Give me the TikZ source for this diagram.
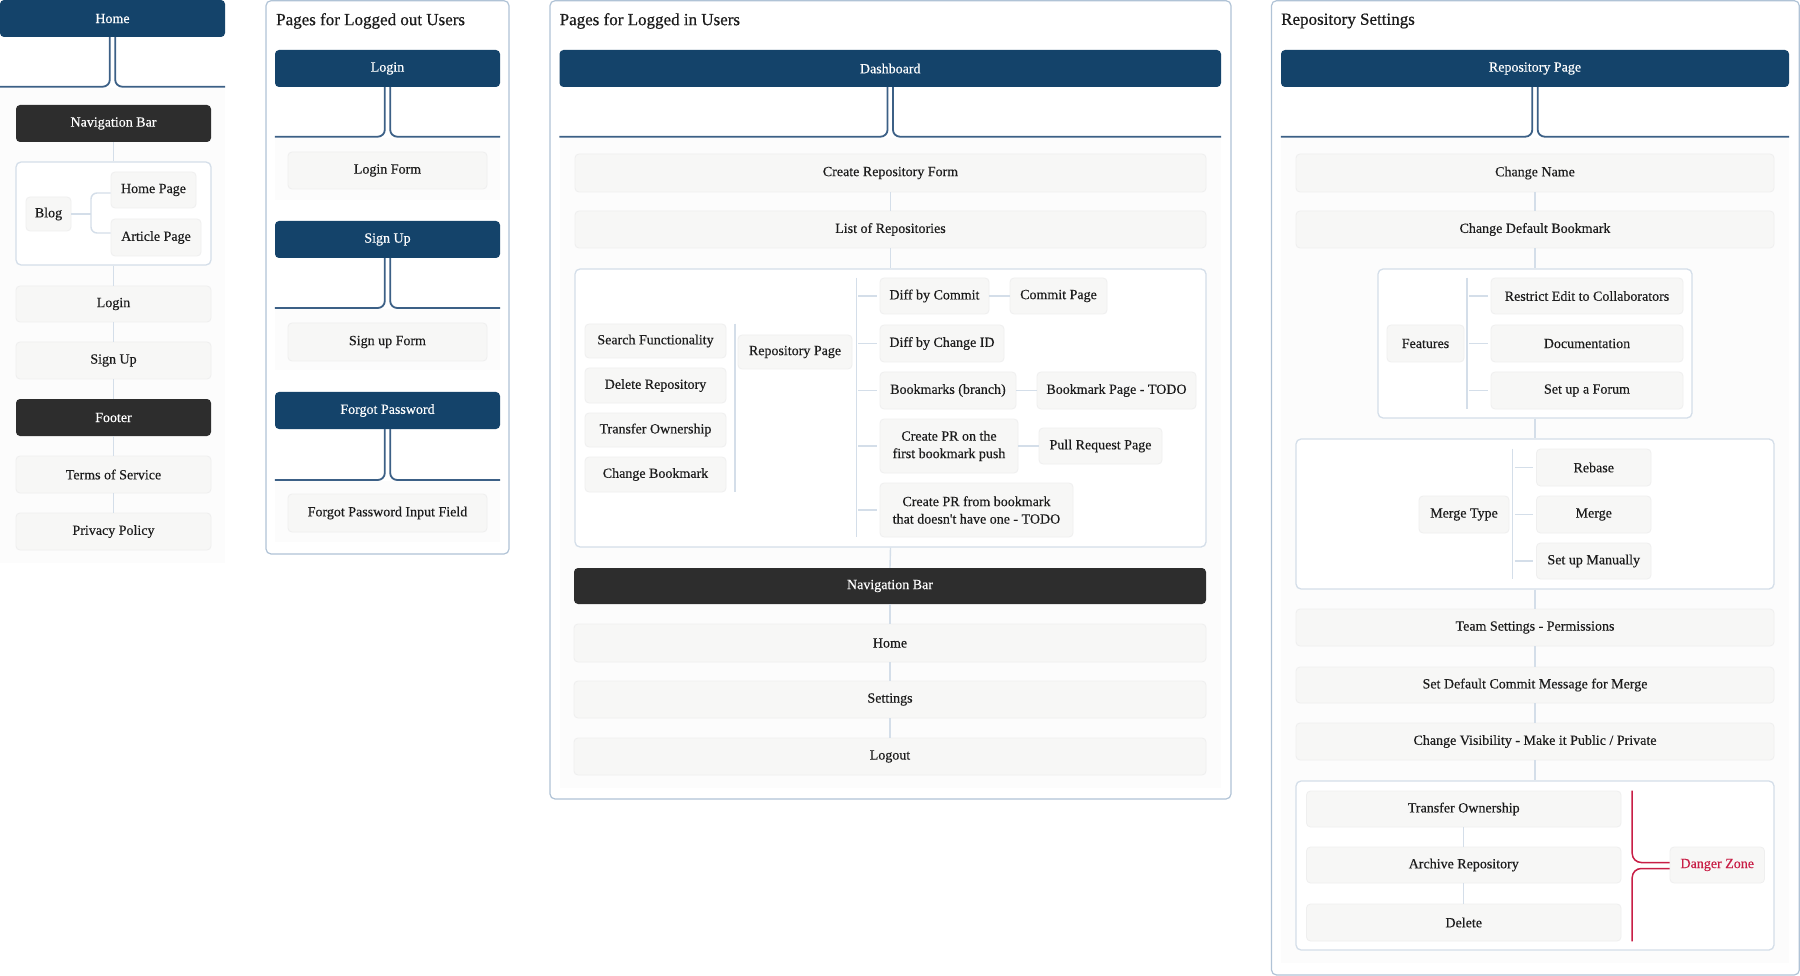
\documentclass[tikz,border=0pt]{standalone}
\usepackage{fontspec}
\setmainfont{Liberation Serif}
\newfontfamily\nodefont{Liberation Serif}[FakeBold=0.35]
\newfontfamily\titlefont{Liberation Serif}[FakeBold=0.6]
\definecolor{navy}{RGB}{20,67,106}
\definecolor{darkbox}{RGB}{45,45,45}
\definecolor{ltfill}{RGB}{247,247,246}
\definecolor{ltdraw}{RGB}{239,239,239}
\definecolor{grpdraw}{RGB}{212,222,233}
\definecolor{framedraw}{RGB}{176,195,214}
\definecolor{conncol}{RGB}{212,222,233}
\definecolor{bracecol}{RGB}{60,96,134}
\definecolor{dangercol}{RGB}{200,30,70}
\definecolor{bgfaint}{RGB}{252,252,252}
\definecolor{txt}{RGB}{28,28,28}
\tikzset{
 box/.style={inner sep=0pt, rounded corners=4pt, font=\nodefont\fontsize{14}{17.5}\selectfont, align=center},
 hdr/.style={box, fill=navy, text=white},
 dk/.style={box, fill=darkbox, text=white},
 lt/.style={box, fill=ltfill, draw=ltdraw, line width=0.8pt, text=txt},
 grp/.style={inner sep=0pt, rounded corners=5pt, draw=grpdraw, fill=white, line width=1.3pt},
 frm/.style={inner sep=0pt, rounded corners=5pt, draw=framedraw, fill=white, line width=1.2pt},
 bgr/.style={inner sep=0pt, fill=bgfaint},
 conn/.style={draw=conncol, line width=1.4pt},
 brc/.style={draw=bracecol, line width=1.8pt, rounded corners=7pt},
 dbrc/.style={draw=dangercol, line width=1.5pt, rounded corners=9pt},
 ttl/.style={anchor=west, inner sep=0pt, font=\titlefont\fontsize{17}{20}\selectfont, text=txt},
}
\newcommand\bx[7]{\node[#6, minimum width={#4-#2}, minimum height={#5-#3}] (#1) at ({(#2+#4)/2},{(#3+#5)/2}) {#7};}
\newcommand\hbr[2]{%
 \draw[brc] ([xshift=-2.7pt]#1.south) |- (#1.west |- 0,#2);
 \draw[brc] ([xshift=2.7pt]#1.south) |- (#1.east |- 0,#2);}
\begin{document}
\begin{tikzpicture}[x=1pt,y=-1pt]
\useasboundingbox (0,0) rectangle (1800,976);
% ---------------- column 1
\bx{bgL}{0}{88}{225}{563}{bgr}{}
\bx{home}{0}{0}{225}{37}{hdr}{Home}
\hbr{home}{86.7}
\bx{nav1}{16}{105}{211}{142}{dk}{Navigation Bar}
\bx{grpBlog}{16}{162}{211}{265}{grp}{}
\bx{blog}{26}{197}{71}{231}{lt}{Blog}
\bx{hp}{111}{172}{196}{208}{lt}{Home Page}
\bx{ap}{111}{219}{201}{256}{lt}{Article Page}
\bx{login1}{16}{286}{211}{322}{lt}{Login}
\bx{signup1}{16}{342}{211}{379}{lt}{Sign Up}
\bx{footer}{16}{399}{211}{436}{dk}{Footer}
\bx{tos}{16}{456}{211}{493}{lt}{Terms of Service}
\bx{pp}{16}{513}{211}{550}{lt}{Privacy Policy}
\coordinate (bj) at (91,214);
\draw[conn] (blog.east) -- (bj);
\draw[conn, rounded corners=6pt] (hp.west |- 0,193) -| (bj) |- (ap.west |- 0,233);
\draw[conn] (nav1.south) -- (grpBlog.north);
\draw[conn] (grpBlog.south) -- (login1.north);
\draw[conn] (login1.south) -- (signup1.north);
\draw[conn] (signup1.south) -- (footer.north);
\draw[conn] (footer.south) -- (tos.north);
\draw[conn] (tos.south) -- (pp.north);
% ---------------- column 2
\bx{frame2}{266}{0.7}{509}{554}{frm}{}
\node[ttl] (title2) at (276,21) {Pages for Logged out Users};
\bx{loginH}{275}{50}{500}{87}{hdr}{Login}
\hbr{loginH}{136.7}
\bx{bg2a}{275}{138}{500}{200}{bgr}{}
\bx{lform}{288}{152}{487}{189}{lt}{Login Form}
\bx{signupH}{275}{221}{500}{258}{hdr}{Sign Up}
\hbr{signupH}{308}
\bx{bg2b}{275}{309}{500}{370}{bgr}{}
\bx{sform}{288}{323}{487}{361}{lt}{Sign up Form}
\bx{forgotH}{275}{392}{500}{429}{hdr}{Forgot Password}
\hbr{forgotH}{480}
\bx{bg2c}{275}{481}{500}{542}{bgr}{}
\bx{fform}{288}{494}{487}{532}{lt}{Forgot Password Input Field}
% ---------------- column 3
\bx{frame3}{550}{0.7}{1231}{799}{frm}{}
\node[ttl] (title3) at (559.5,21) {Pages for Logged in Users};
\bx{bg3}{559.5}{138}{1221}{788}{bgr}{}
\bx{dash}{559.5}{50}{1221}{87}{hdr}{Dashboard}
\hbr{dash}{136.7}
\bx{crf}{575}{154}{1206}{192}{lt}{Create Repository Form}
\bx{lor}{575}{211}{1206}{248}{lt}{List of Repositories}
\bx{grpRepo}{575}{269}{1206}{547}{grp}{}
\bx{sf}{585}{324}{726}{358}{lt}{Search Functionality}
\bx{dr}{585}{368}{726}{403}{lt}{Delete Repository}
\bx{tow}{585}{413}{726}{447}{lt}{Transfer Ownership}
\bx{cb}{585}{457}{726}{492}{lt}{Change Bookmark}
\bx{rp}{738}{335}{852}{369}{lt}{Repository Page}
\bx{dbc}{880}{278}{989}{314}{lt}{Diff by Commit}
\bx{cp}{1010}{278}{1107}{314}{lt}{Commit Page}
\bx{dbid}{880}{325}{1004}{362}{lt}{Diff by Change ID}
\bx{bmk}{880}{372}{1016}{409}{lt}{Bookmarks (branch)}
\bx{bmp}{1037}{372}{1196}{409}{lt}{Bookmark Page - TODO}
\bx{cpr1}{880}{419}{1018}{473}{lt}{Create PR on the\\first bookmark push}
\bx{prp}{1039}{428}{1162}{464}{lt}{Pull Request Page}
\bx{cpr2}{880}{483}{1073}{537}{lt}{Create PR from bookmark\\that doesn't have one - TODO}
\bx{nav2}{574}{568}{1206}{604}{dk}{Navigation Bar}
\bx{home2}{574}{624}{1206}{662}{lt}{Home}
\bx{settings}{574}{681}{1206}{718}{lt}{Settings}
\bx{logout}{574}{738}{1206}{775}{lt}{Logout}
\coordinate (lv) at (735,0);
\coordinate (rv) at (856.3,0);
\draw[conn] (lv |- sf.north) -- (lv |- cb.south);
\draw[conn] (rv |- dbc.north) -- (rv |- cpr2.south);
\foreach \n in {dbc,dbid,bmk,cpr1,cpr2}{\draw[conn] ([xshift=2pt]rv |- \n.west) -- ([xshift=-3pt]\n.west);}
\draw[conn] (dbc.east) -- (cp.west);
\draw[conn] (bmk.east) -- (bmp.west);
\draw[conn] (cpr1.east) -- (prp.west);
\draw[conn] (crf.south) -- (lor.north);
\draw[conn] (lor.south) -- (grpRepo.north);
\draw[conn] (grpRepo.south) -- (nav2.north);
\draw[conn] (nav2.south) -- (home2.north);
\draw[conn] (home2.south) -- (settings.north);
\draw[conn] (settings.south) -- (logout.north);
% ---------------- column 4
\bx{frame4}{1271.5}{0.7}{1799.3}{975}{frm}{}
\node[ttl] (title4) at (1281,21) {Repository Settings};
\bx{bg4}{1281}{138}{1789}{963}{bgr}{}
\bx{rph}{1281}{50}{1789}{87}{hdr}{Repository Page}
\hbr{rph}{136.7}
\bx{cn}{1296}{154}{1774}{192}{lt}{Change Name}
\bx{cdb}{1296}{211}{1774}{248}{lt}{Change Default Bookmark}
\bx{grpF}{1378}{269}{1692}{418}{grp}{}
\bx{feat}{1387}{325}{1464}{362}{lt}{Features}
\bx{rec}{1491}{278}{1683}{314}{lt}{Restrict Edit to Collaborators}
\bx{doc}{1491}{325}{1683}{362}{lt}{Documentation}
\bx{forum}{1491}{372}{1683}{409}{lt}{Set up a Forum}
\bx{grpM}{1296}{439}{1774}{589}{grp}{}
\bx{mt}{1419}{496}{1509}{533}{lt}{Merge Type}
\bx{reb}{1536.5}{449}{1651}{486}{lt}{Rebase}
\bx{mrg}{1536.5}{496}{1651}{533}{lt}{Merge}
\bx{sum}{1536.5}{543}{1651}{579}{lt}{Set up Manually}
\bx{ts}{1296}{609}{1774}{646}{lt}{Team Settings - Permissions}
\bx{sdc}{1296}{667}{1774}{703}{lt}{Set Default Commit Message for Merge}
\bx{cv}{1296}{723}{1774}{760}{lt}{Change Visibility - Make it Public / Private}
\bx{grpD}{1296}{781}{1774}{950}{grp}{}
\bx{to2}{1306.5}{791}{1621}{827}{lt}{Transfer Ownership}
\bx{ar}{1306.5}{847}{1621}{883}{lt}{Archive Repository}
\bx{del}{1306.5}{904}{1621}{941}{lt}{Delete}
\bx{dz}{1670}{847}{1764.5}{883}{lt, text=dangercol}{Danger Zone}
\coordinate (fv) at (1467,0);
\draw[conn] (fv |- rec.north) -- (fv |- forum.south);
\foreach \n in {rec,doc,forum}{\draw[conn] ([xshift=2.4pt]fv |- \n.west) -- ([xshift=-2.4pt]\n.west);}
\coordinate (mv) at (1512.4,0);
\draw[conn] (mv |- reb.north) -- (mv |- sum.south);
\foreach \n in {reb,mrg,sum}{\draw[conn] ([xshift=2.4pt]mv |- \n.west) -- ([xshift=-2.7pt]\n.west);}
\draw[conn] (cn.south) -- (cdb.north);
\draw[conn] (cdb.south) -- (grpF.north);
\draw[conn] (grpF.south) -- (grpM.north);
\draw[conn] (grpM.south) -- (ts.north);
\draw[conn] (ts.south) -- (sdc.north);
\draw[conn] (sdc.south) -- (cv.north);
\draw[conn] (cv.south) -- (grpD.north);
\draw[conn] (to2.south) -- (ar.north);
\draw[conn] (ar.south) -- (del.north);
\coordinate (dv) at (1632.2,0);
\draw[dbrc] (dv |- to2.north) |- (dz.west |- 0,862.5);
\draw[dbrc] (dv |- del.south) |- (dz.west |- 0,868.5);
\end{tikzpicture}
\end{document}
